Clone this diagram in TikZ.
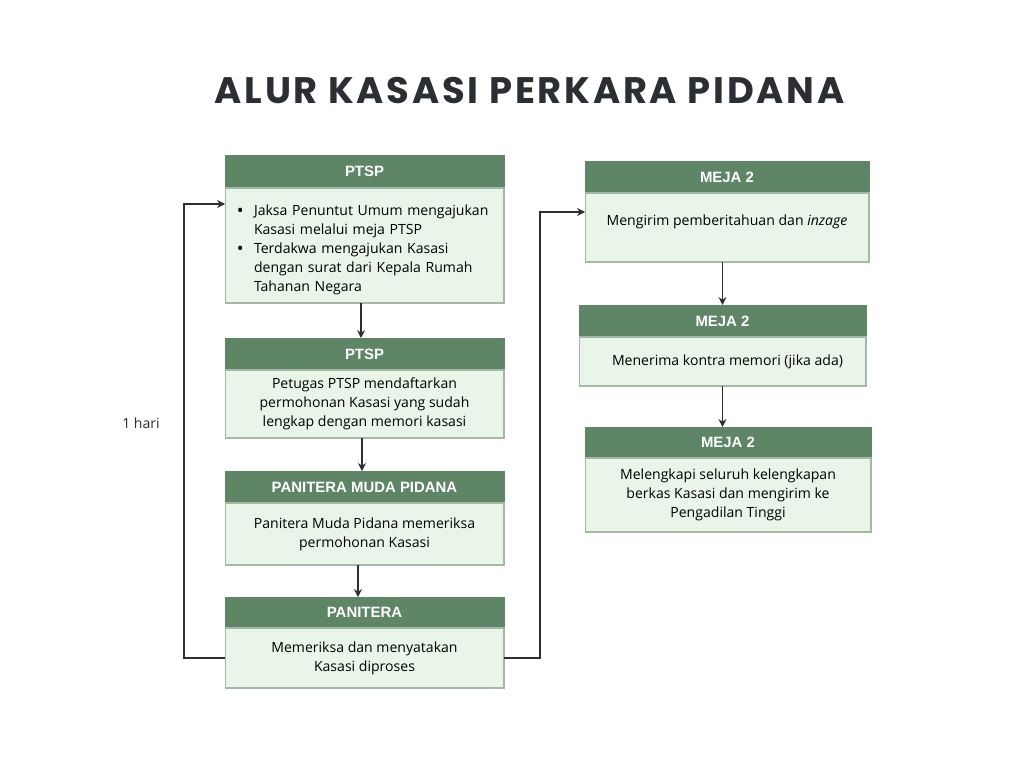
\documentclass[tikz,border=0pt]{standalone}
\usepackage{fontspec}
\setmainfont{Open Sans}
\setsansfont{Liberation Sans}
\newfontfamily\titlefont[LetterSpace=7.5]{Poppins}
\usetikzlibrary{positioning,calc,arrows.meta}
\definecolor{headgreen}{HTML}{5E8566}
\definecolor{bodygreen}{HTML}{EAF5EA}
\definecolor{edgegreen}{HTML}{A3B9A6}
\definecolor{ink}{HTML}{2B2F33}
\tikzstyle{head}=[fill=headgreen, draw=headgreen, text=white, font=\sffamily\bfseries\fontsize{8.5}{10}\selectfont, inner sep=0pt, outer sep=0pt]
\tikzstyle{body}=[fill=bodygreen, draw=edgegreen, line width=0.6pt, align=center, font=\fontsize{8}{10.8}\selectfont, inner sep=0pt, outer sep=0pt]
\tikzstyle{flow}=[draw=ink, line width=1.1pt, -{Stealth[length=4.5pt,width=4.5pt]}]
\newcommand{\nl}{\hfil\break}
\newcommand{\bulletline}[1]{\par\hangindent=0.58cm\hangafter=1\noindent\hbox to 0.58cm{\hspace{0.25cm}\textbf{\textbullet}\hfil}#1\par}

\begin{document}
\begin{tikzpicture}[x=0.02cm,y=-0.02cm]
		\useasboundingbox[fill=white] (0,0) rectangle (1024,768);
		\node[text=ink, font=\titlefont\bfseries\fontsize{21}{24}\selectfont] (title) at (529.5,90) {ALUR KASASI PERKARA PIDANA};
		
		%left column
		\node[head, minimum width=5.58cm, minimum height=0.66cm] (h1) at (364.5,171.5) {PTSP};
		\node[body, below=0pt of h1, minimum width=5.58cm, minimum height=2.3cm, text width=5.58cm, align=left] (b1) {\bulletline{Jaksa Penuntut Umum mengajukan\nl Kasasi melalui meja PTSP}\bulletline{Terdakwa mengajukan Kasasi\nl dengan surat dari Kepala Rumah\nl Tahanan Negara}};
		
		\node[head, minimum width=5.58cm, minimum height=0.64cm] (h2) at (364.5,354) {PTSP};
		\node[body, below=0pt of h2, minimum width=5.58cm, minimum height=1.36cm] (b2) {Petugas PTSP mendaftarkan\\permohonan Kasasi yang sudah\\lengkap dengan memori kasasi};
		
		\node[head, minimum width=5.58cm, minimum height=0.64cm] (h3) at (364.5,487) {PANITERA MUDA PIDANA};
		\node[body, below=0pt of h3, minimum width=5.58cm, minimum height=1.24cm] (b3) {Panitera Muda Pidana memeriksa\\permohonan Kasasi};
		
		\node[head, minimum width=5.58cm, minimum height=0.62cm] (h4) at (364.5,612.5) {PANITERA};
		\node[body, below=0pt of h4, minimum width=5.58cm, minimum height=1.2cm] (b4) {Memeriksa dan menyatakan\\Kasasi diproses};
		
		%right column
		\node[head, minimum width=5.68cm, minimum height=0.64cm] (h5) at (727,177) {MEJA 2};
		\node[body, below=0pt of h5, minimum width=5.68cm, minimum height=1.38cm] (b5) {\raisebox{0.3cm}{Mengirim pemberitahuan dan \textit{inzage}}};
		
		\node[head, minimum width=5.74cm, minimum height=0.64cm] (h6) at (722.5,321) {MEJA 2};
		\node[body, below=0pt of h6, minimum width=5.74cm, minimum height=0.98cm] (b6) {\hspace{0.2cm}Menerima kontra memori (jika ada)};
		
		\node[head, minimum width=5.72cm, minimum height=0.62cm] (h7) at (728,442.5) {MEJA 2};
		\node[body, below=0pt of h7, minimum width=5.72cm, minimum height=1.48cm] (b7) {Melengkapi seluruh kelengkapan\\berkas Kasasi dan mengirim ke\\Pengadilan Tinggi};
		
		\node[text=ink, font=\fontsize{8}{10.8}\selectfont] (hari) at (141,423) {1 hari};
		
		%arrows
		\coordinate (in1) at ($(b1.north west)+(0,-0.32cm)$);
		\coordinate (in5) at ($(b5.north west)+(0,-0.38cm)$);
		\draw[flow] ($(b1.south)+(-0.07cm,0)$) -- ($(h2.north)+(-0.07cm,0)$);
		\draw[flow] ($(b2.south)+(-0.05cm,0)$) -- ($(h3.north)+(-0.05cm,0)$);
		\draw[flow] ($(b3.south)+(-0.13cm,0)$) -- ($(h4.north)+(-0.13cm,0)$);
		\draw[flow] (h6.north |- b5.south) -- (h6.north);
		\draw[flow] (b6.south) -- (b6.south |- h7.north);
		\draw[flow] (b4.west) -- ++(-0.82cm,0) |- (in1);%loop back
		\draw[flow] (b4.east) -- ++(0.72cm,0) |- (in5);%to meja 2
\end{tikzpicture}
\end{document}
